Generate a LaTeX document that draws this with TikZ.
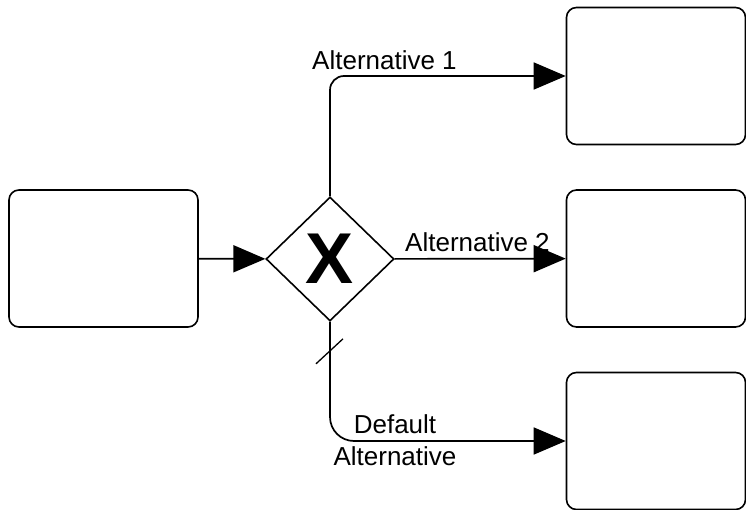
\documentclass[tikz,border=0pt]{standalone}
\usepackage{fontspec}
\setmainfont{Liberation Sans}
\usepackage{tikz}
\usetikzlibrary{calc,shapes.geometric,arrows.meta}
\tikzset{
  task/.style={draw, line width=1.6pt, rounded corners=10pt, minimum width=179pt, minimum height=137pt},
  gateway/.style={draw, line width=1.6pt, diamond, minimum width=128pt, minimum height=124pt, inner sep=0pt,
    font=\fontsize{72}{72}\bfseries\selectfont},
  flow/.style={draw, line width=1.7pt, -{Triangle[length=32pt,width=27pt]}},
  lab/.style={font=\fontsize{26}{32}\selectfont, inner sep=0pt},
}
\begin{document}
\begin{tikzpicture}[x=1pt,y=-1pt]
  \useasboundingbox (0,0) rectangle (746,510);
  \node[task, minimum width=189pt] (task) at (103.5,258.5) {};
  \node[gateway] (gw) at (330,259) {X};
  \node[task] (alt1) at (656,76) {};
  \node[task] (alt2) at (656,258.5) {};
  \node[task] (alt3) at (656,441) {};
  \draw[flow] (task) -- (gw);
  \draw[flow, rounded corners=14pt] (gw.north) |- (alt1);
  \draw[flow] (gw) -- (alt2);
  \draw[flow, rounded corners=24pt] (gw.south) |- (alt3);
  % default marker
  \draw[line width=1.3pt] ($(gw.south)+(-14,42)$) -- ($(gw.south)+(13,17)$);
  \node[lab, anchor=base west] (lab1) at (312,70) {Alternative 1};
  \node[lab, anchor=base west] (lab2) at (405,252) {Alternative 2};
  \node[lab, anchor=base, align=center] (lab3) at (395,465) {Default\\Alternative};
\end{tikzpicture}
\end{document}
